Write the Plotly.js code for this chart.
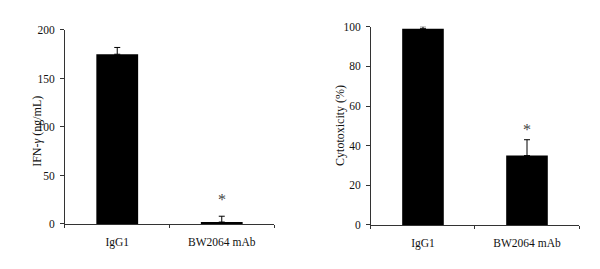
<!DOCTYPE html>
<html>
<head>
<meta charset="utf-8">
<script src="https://cdn.plot.ly/plotly-3.0.1.min.js"></script>
<style>html,body{margin:0;padding:0;background:#fff;}#chart{width:600px;height:269px;}</style>
</head>
<body>
<div id="chart"></div>
<script>
var categories = ["IgG1", "BW2064 mAb"];
var ifnValues = [175, 2];
var ifnErrors = [7, 6];
var cytoValues = [99, 35];
var cytoErrors = [1, 8];
var starCategory = "BW2064 mAb";
var ifnStarY = 25;
var cytoStarY = 48;

var font = "Liberation Serif, Times New Roman, serif";
var axisColor = "#333";
var textColor = "#111";

function barTrace(vals, errs, xa, ya) {
  return {
    type: "bar", x: categories, y: vals, xaxis: xa, yaxis: ya,
    width: 0.4, marker: {color: "#000", line: {width: 0}},
    error_y: {type: "data", symmetric: false, array: errs, arrayminus: [0, 0],
      color: "#000", thickness: 1, width: 3},
    showlegend: false, hoverinfo: "skip"
  };
}

function xAxis(domain, anchor) {
  return {
    domain: domain, anchor: anchor, type: "category", range: [-0.5, 1.5],
    showline: true, linecolor: axisColor, linewidth: 1,
    ticks: "outside", tickson: "boundaries", ticklen: 3, tickcolor: axisColor,
    showgrid: false, zeroline: false, fixedrange: true,
    tickfont: {family: font, size: 11.5, color: textColor}, ticklabelstandoff: 7
  };
}
function yAxis(domain, anchor, max, dtick) {
  return {
    domain: domain, anchor: anchor, range: [0, max], dtick: dtick,
    showline: true, linecolor: axisColor, linewidth: 1,
    ticks: "outside", ticklen: 4, tickcolor: axisColor,
    showgrid: false, zeroline: false, fixedrange: true,
    tickfont: {family: font, size: 11.5, color: textColor}, ticklabelstandoff: 3
  };
}

var data = [
  barTrace(ifnValues, ifnErrors, "x", "y"),
  barTrace(cytoValues, cytoErrors, "x2", "y2")
];

var layout = {
  width: 600, height: 269,
  margin: {l: 0, r: 0, t: 0, b: 0},
  paper_bgcolor: "#fff", plot_bgcolor: "#fff",
  font: {family: font, size: 11, color: textColor},
  xaxis: xAxis([0.1083, 0.4567], "y"),
  yaxis: yAxis([0.1673, 0.8885], "x", 200, 50),
  xaxis2: xAxis([0.6183, 0.965], "y2"),
  yaxis2: yAxis([0.1636, 0.9007], "x2", 100, 20),
  annotations: [
    {text: "IFN-<i>γ</i> (ng/mL)", xref: "paper", yref: "paper", x: 0.0467, y: 0.51,
      textangle: -90, showarrow: false, font: {family: font, size: 12, color: textColor}},
    {text: "Cytotoxicity (%)", xref: "paper", yref: "paper", x: 0.5667, y: 0.532,
      textangle: -90, showarrow: false, font: {family: font, size: 12, color: textColor}},
    {text: "*", xref: "x", yref: "y", x: starCategory, y: ifnStarY, showarrow: false,
      font: {family: font, size: 16, color: "#444"}},
    {text: "*", xref: "x2", yref: "y2", x: starCategory, y: cytoStarY, showarrow: false,
      font: {family: font, size: 16, color: "#444"}}
  ]
};

Plotly.newPlot("chart", data, layout, {displayModeBar: false, staticPlot: true});
</script>
</body>
</html>
